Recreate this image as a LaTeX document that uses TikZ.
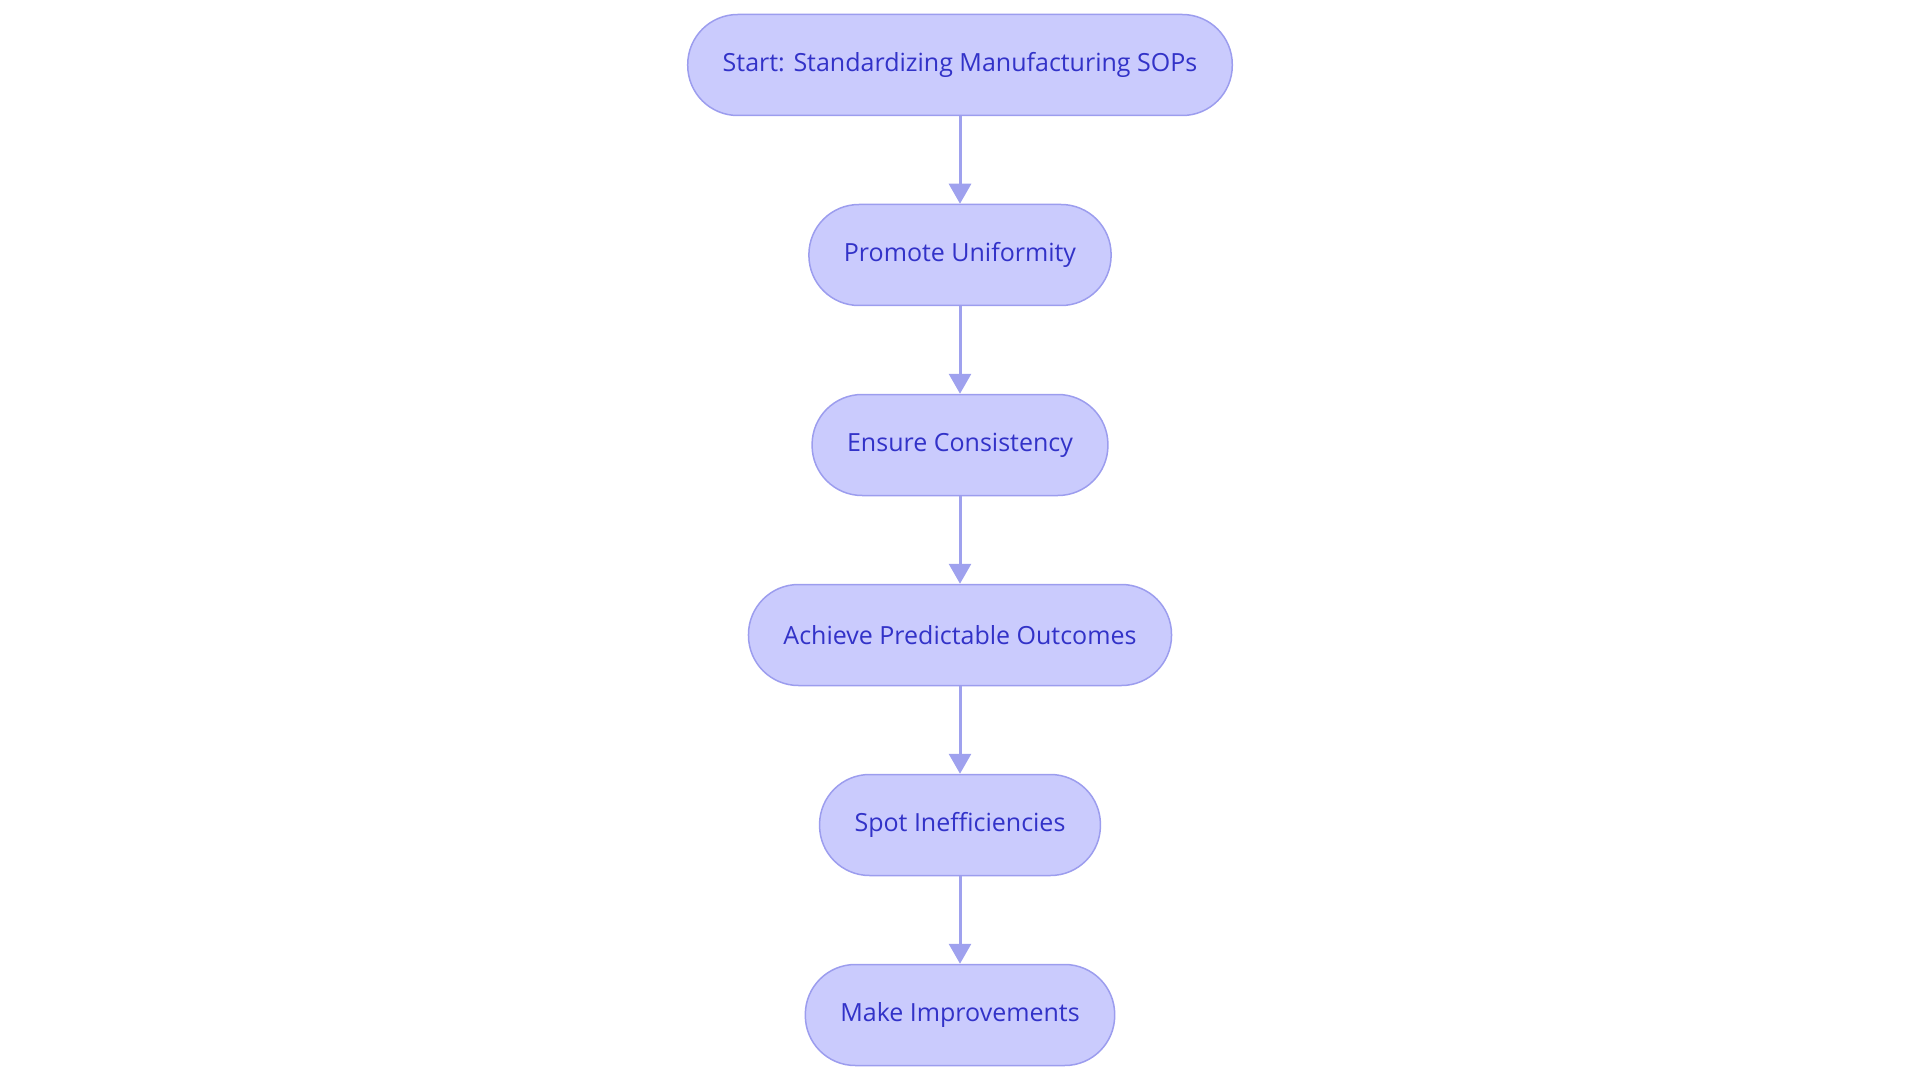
\documentclass[tikz,border=0pt]{standalone}
\usepackage{fontspec}
\setmainfont{Open Sans}
\usepackage{tikz}
\usetikzlibrary{positioning,arrows.meta}
\definecolor{boxfill}{HTML}{CACBFD}
\definecolor{boxline}{HTML}{9C9DEE}
\definecolor{boxtext}{HTML}{3232C8}
\definecolor{flowline}{HTML}{9FA1EE}

\begin{document}
\begin{tikzpicture}[x=1pt, y=1pt,
  stepbox/.style={draw=boxline, line width=1.5pt, fill=boxfill, text=boxtext,
    rounded corners=50pt, minimum height=101pt, inner xsep=35pt,
    font=\fontsize{25}{30}\selectfont},
  flow/.style={draw=flowline, line width=3pt, -{Triangle[width=22pt,length=20pt]}},
  node distance=87.5pt]
\useasboundingbox (0,0) rectangle (1920,-1083);
\node[stepbox] (start) at (960,-65) {Start: Standardizing Manufacturing SOPs};
\node[stepbox, below=of start] (promote) {Promote Uniformity};
\node[stepbox, below=of promote] (ensure) {Ensure Consistency};
\node[stepbox, below=of ensure] (achieve) {Achieve Predictable Outcomes};
\node[stepbox, below=of achieve] (spot) {Spot Inefficiencies};
\node[stepbox, below=of spot] (improve) {Make Improvements};
\draw[flow] (start) -- (promote);
\draw[flow] (promote) -- (ensure);
\draw[flow] (ensure) -- (achieve);
\draw[flow] (achieve) -- (spot);
\draw[flow] (spot) -- (improve);
\end{tikzpicture}
\end{document}
